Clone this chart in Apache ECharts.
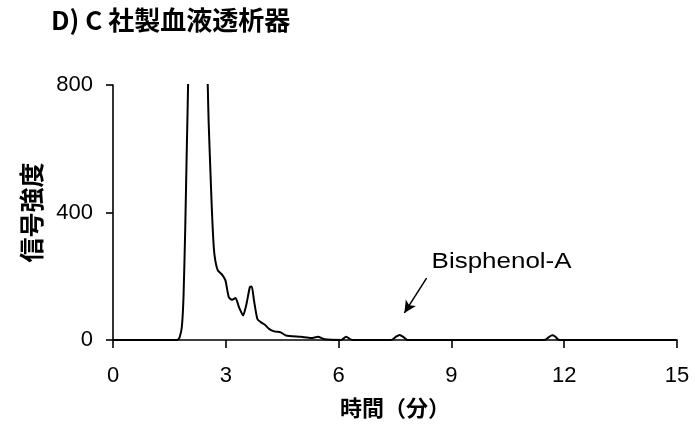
<!DOCTYPE html>
<html>
<head>
<meta charset="utf-8">
<script src="https://cdn.jsdelivr.net/npm/echarts@6/dist/echarts.min.js"></script>
<style>
  html, body { margin: 0; padding: 0; background: #fff; }
  #chart { width: 695px; height: 427px; }
</style>
</head>
<body>
<div id="chart"></div>
<script>
// Retention time (min) and detector signal of the chromatogram
const timeMin = [
  0, 0.5, 1.0, 1.5, 1.72, 1.77, 1.83, 1.875, 1.92, 1.96, 2.0, 2.05, 2.15, 2.3, 2.45, 2.5,
  2.52, 2.545, 2.59, 2.63, 2.68, 2.72, 2.79, 2.90, 2.99, 3.08, 3.17, 3.26, 3.35, 3.46,
  3.55, 3.64, 3.69, 3.75, 3.84, 3.93, 4.04, 4.15, 4.29, 4.46, 4.6, 5.0, 5.27, 5.45,
  5.63, 6.07, 6.2, 6.34, 6.6, 7.0, 7.4, 7.52, 7.62, 7.72, 7.83, 8.2, 9.0, 10.0, 11.0,
  11.5, 11.6, 11.68, 11.76, 11.85, 12.2, 13.0, 14.0, 15.0
];
const signal = [
  0, 0, 0, 0, 1, 8, 40, 134, 344, 585, 820, 1400, 2400, 2800, 1700, 950,
  800, 680, 533, 407, 291, 250, 218, 205, 187, 134, 126, 132, 103, 77,
  113, 166, 168, 124, 66, 56, 48, 35, 27, 24, 14, 10, 6, 10,
  2, 0, 10, 1, 0, 0, 0, 10, 16, 10, 0, 0, 0, 0, 0,
  1, 10, 15, 11, 1, 0, 0, 0, 0
];
const xTicks = { min: 0, max: 15, step: 3 };
const yTicks = { min: 0, max: 800, step: 400 };
const peakName = 'Bisphenol-A';
// Arrow pointing at the Bisphenol-A peak, in data units [min, signal]
const arrowFrom = [8.34, 194];
const arrowTo = [7.75, 85];

const chart = echarts.init(document.getElementById('chart'), null, { renderer: 'canvas' });
const lineData = timeMin.map((t, i) => [t, signal[i]]);
const axisFont = { fontFamily: 'Liberation Sans', fontSize: 22, color: '#000' };

chart.setOption({
  animation: false,
  backgroundColor: '#fff',
  title: {
    text: 'D) C 社製血液透析器',
    left: 51,
    top: 7,
    padding: 0,
    textStyle: { fontFamily: 'Noto Sans CJK JP', fontWeight: 'bold', fontSize: 26, color: '#000' }
  },
  grid: { left: 113, right: 18, top: 85, bottom: 87 },
  xAxis: {
    type: 'value',
    min: xTicks.min, max: xTicks.max, interval: xTicks.step,
    name: '時間（分）',
    nameLocation: 'middle',
    nameGap: 57,
    nameTextStyle: { fontFamily: 'Noto Sans CJK JP', fontWeight: 'bold', fontSize: 22, color: '#000' },
    axisLine: { lineStyle: { color: '#000', width: 1.6 } },
    axisTick: { length: 8, lineStyle: { color: '#000', width: 1.6 } },
    axisLabel: { margin: 25, ...axisFont },
    splitLine: { show: false }
  },
  yAxis: {
    type: 'value',
    min: yTicks.min, max: yTicks.max, interval: yTicks.step,
    name: '信号強度',
    nameLocation: 'middle',
    nameGap: 69,
    nameTextStyle: { fontFamily: 'Noto Sans CJK JP', fontWeight: 'bold', fontSize: 25, color: '#000' },
    axisLine: { show: true, lineStyle: { color: '#000', width: 1.6 } },
    axisTick: { show: true, length: 7, lineStyle: { color: '#000', width: 1.6 } },
    axisLabel: { margin: 20, ...axisFont },
    splitLine: { show: false }
  },
  series: [{
    type: 'line',
    data: lineData,
    showSymbol: false,
    smooth: 0.2,
    clip: true,
    lineStyle: { color: '#000', width: 2 },
    markLine: {
      silent: true,
      symbolSize: [9, 12],
      lineStyle: { color: '#000', width: 1.5, type: 'solid' },
      label: { show: false },
      data: [[
        { coord: arrowFrom, symbol: 'none' },
        { coord: arrowTo, symbol: 'arrow' }
      ]]
    }
  }]
});

// Peak name placed just above the arrow tail
const tail = chart.convertToPixel({ gridIndex: 0 }, arrowFrom);
chart.setOption({
  graphic: [{
    type: 'text',
    x: tail[0] + 5,
    y: tail[1] - 16,
    scaleX: 1.18,
    style: {
      text: peakName, fontFamily: 'Liberation Sans', fontSize: 22, fill: '#000',
      textAlign: 'left', textVerticalAlign: 'middle'
    }
  }]
});
</script>
</body>
</html>
